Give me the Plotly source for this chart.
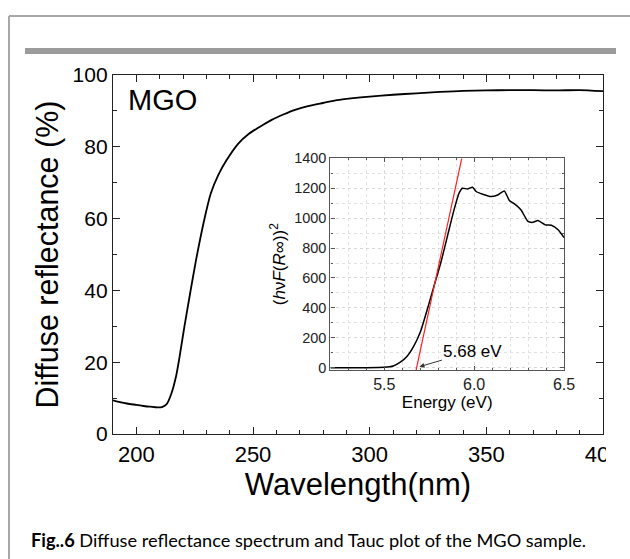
import plotly.graph_objects as go

# Main diffuse reflectance spectrum
wavelength_nm = [190, 193, 196, 200, 203, 206, 209, 211, 213, 215, 217, 218.3, 220.6, 223,
                 225.6, 229.4, 231.9, 235, 238.7, 243.7, 248, 253, 258, 263, 268, 274, 280,
                 286, 292, 300, 310, 320, 330, 340, 350, 360, 370, 380, 390, 400]
reflectance_pct = [9.4, 8.9, 8.5, 8.1, 7.8, 7.6, 7.4, 7.5, 8.3, 11.2, 16, 20.6, 29.9, 39,
                   48.5, 60.5, 67, 72, 76.3, 80.9, 83.5, 85.6, 87.5, 89, 90.3, 91.4, 92.2,
                   93, 93.5, 94, 94.5, 94.9, 95.3, 95.6, 95.7, 95.8, 95.8, 95.7, 95.8, 95.5]

# Tauc plot inset
energy_ev = [5.2, 5.3, 5.4, 5.5, 5.55, 5.589, 5.627, 5.664, 5.702, 5.739, 5.776, 5.814, 5.851,
             5.888, 5.916, 5.935, 5.963, 5.991, 6.011, 6.048, 6.094, 6.131, 6.168, 6.196,
             6.224, 6.261, 6.299, 6.327, 6.355, 6.396, 6.43, 6.467, 6.5]
tauc_val = [0, 0, 0, 3, 12, 37, 77, 144, 244, 389, 544, 700, 878, 1055, 1167, 1200, 1195,
            1207, 1178, 1160, 1144, 1155, 1182, 1118, 1095, 1055, 978, 972, 984, 955, 953,
            922, 870]

# Tangent (linear fit) line
fit_energy = [5.677, 5.931]
fit_val = [-15, 1400]
band_gap_ev = 5.69
band_gap_label = "5.68 eV"

main_xticks = [200, 250, 300, 350, 400]
main_yticks = [0, 20, 40, 60, 80, 100]
inset_xticks = [5.5, 6.0, 6.5]
inset_yticks = [0, 200, 400, 600, 800, 1000, 1200, 1400]

W, H = 630, 559
def px(x):
    return x / W
def py(y):
    return 1 - y / H

FONT = "Liberation Sans, Arial, sans-serif"

fig = go.Figure()
fig.add_trace(go.Scatter(x=wavelength_nm, y=reflectance_pct, mode="lines",
                         line=dict(color="black", width=1.8, shape="spline", smoothing=0.6),
                         xaxis="x", yaxis="y", showlegend=False, hoverinfo="skip"))
fig.add_trace(go.Scatter(x=energy_ev, y=tauc_val, mode="lines",
                         line=dict(color="black", width=1.5, shape="spline", smoothing=0.5),
                         xaxis="x2", yaxis="y2", showlegend=False, hoverinfo="skip"))
fig.add_trace(go.Scatter(x=fit_energy, y=fit_val, mode="lines",
                         line=dict(color="#ff2020", width=1.2),
                         xaxis="x2", yaxis="y2", showlegend=False, hoverinfo="skip"))

main_axis = dict(showline=True, linecolor="#222", linewidth=1.3, mirror="ticks",
                 ticks="inside", tickcolor="#222", tickwidth=1.2, ticklen=7,
                 showgrid=False, zeroline=False, automargin=False,
                 tickfont=dict(family=FONT, size=22, color="black"))

fig.update_layout(
    width=W, height=H, margin=dict(l=0, r=0, t=0, b=0, pad=0), autosize=False,
    paper_bgcolor="white", plot_bgcolor="white",
    xaxis=dict(main_axis, domain=[px(113), px(603)], range=[190, 400],
               tickvals=main_xticks, anchor="y",
               minor=dict(dtick=10, ticks="inside", ticklen=4, tickcolor="#222"),
               title=dict(text="Wavelength(nm)", font=dict(family=FONT, size=31, color="black"),
                          standoff=6)),
    yaxis=dict(main_axis, domain=[py(434), py(75)], range=[0, 100],
               tickvals=main_yticks, anchor="x",
               tickfont=dict(family=FONT, size=21, color="black"),
               minor=dict(dtick=10, ticks="inside", ticklen=4, tickcolor="#222"),
               title=dict(text="Diffuse reflectance (%)",
                          font=dict(family=FONT, size=30.5, color="black"), standoff=4)),
    xaxis2=dict(showline=True, linecolor="#555", linewidth=1.2, mirror="ticks",
                ticks="inside", tickcolor="#555", ticklen=4, anchor="y2", automargin=False,
                domain=[px(330.4), px(564)], range=[5.2, 6.5], tickvals=inset_xticks,
                ticktext=["5.5", "6.0", "6.5"],
                showgrid=True, gridcolor="#d8d8d8", griddash="dot", gridwidth=1,
                minor=dict(dtick=0.1, tick0=5.2, ticks="inside", ticklen=2, tickcolor="#555",
                           showgrid=True, gridcolor="#e2e2e2", griddash="dot"),
                zeroline=False,
                tickfont=dict(family=FONT, size=16, color="#222"),
                title=dict(text="Energy (eV)", font=dict(family=FONT, size=17, color="black"),
                           standoff=0)),
    yaxis2=dict(showline=True, linecolor="#555", linewidth=1.2, mirror="ticks",
                ticks="inside", tickcolor="#555", ticklen=4, anchor="x2", automargin=False,
                domain=[py(370), py(158.3)], range=[-15, 1400], tickvals=inset_yticks,
                showgrid=True, gridcolor="#d8d8d8", griddash="dot", gridwidth=1,
                minor=dict(dtick=100, ticks="inside", ticklen=2, tickcolor="#555",
                           showgrid=True, gridcolor="#e2e2e2", griddash="dot"),
                zeroline=False,
                tickfont=dict(family=FONT, size=14.5, color="#222"),
                title=dict(text="(<i>h</i>ν<i>F</i>(<i>R</i>∞))<sup>2</sup>",
                           font=dict(family=FONT, size=17, color="black"), standoff=4)),
    shapes=[
        dict(type="line", xref="paper", yref="paper", x0=px(9), x1=1.0, y0=py(16), y1=py(16),
             line=dict(color="#a8a8a8", width=2)),
        dict(type="line", xref="paper", yref="paper", x0=px(9), x1=px(9), y0=py(16), y1=0,
             line=dict(color="#a8a8a8", width=2)),
        dict(type="rect", xref="paper", yref="paper", x0=px(25), x1=px(616), y0=py(54), y1=py(48),
             fillcolor="#9b9b9b", line=dict(width=0)),
        # the source image is cropped just right of the plot frame (clips the "400" label)
        dict(type="rect", xref="paper", yref="paper", x0=px(606), x1=1.0, y0=py(470), y1=py(438),
             fillcolor="white", line=dict(width=0), layer="above"),
    ],
    annotations=[
        dict(text="MGO", xref="paper", yref="paper", x=px(126), y=py(100), xanchor="left",
             yanchor="middle", showarrow=False, font=dict(family=FONT, size=29, color="black")),
        dict(text=band_gap_label, x=band_gap_ev, y=5, xref="x2", yref="y2",
             showarrow=True, ax=5.993, ay=112, axref="x2", ayref="y2",
             arrowhead=2, arrowsize=1, arrowwidth=1, arrowcolor="#333", standoff=1,
             font=dict(family=FONT, size=17, color="black")),
        dict(text="<b>Fig..6</b> Diffuse reflectance spectrum and Tauc plot of the MGO sample.",
             xref="paper", yref="paper", x=px(29), y=py(540), xanchor="left", yanchor="middle",
             showarrow=False, font=dict(family="Lato, Open Sans, sans-serif", size=18.2, color="black")),
    ],
)

fig.write_html("out.html", config={"displayModeBar": False},
               post_script="document.body.style.margin='0';document.body.style.overflow='hidden';")
